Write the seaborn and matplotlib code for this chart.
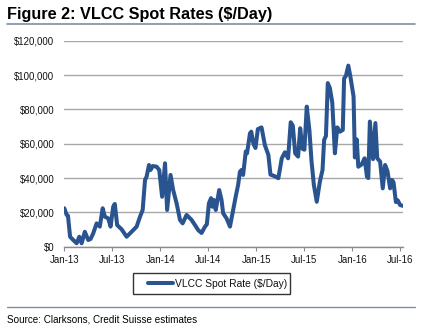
import matplotlib
matplotlib.use("Agg")
import matplotlib.pyplot as plt
import matplotlib.dates as mdates
from matplotlib.lines import Line2D
from matplotlib.patches import Rectangle
import seaborn as sns
import pandas as pd

dates = [
    "2013-01-01", "2013-01-10", "2013-01-15", "2013-01-23", "2013-02-04", "2013-02-17",
    "2013-02-27", "2013-03-08", "2013-03-20", "2013-04-02", "2013-04-11", "2013-04-21",
    "2013-05-04", "2013-05-16", "2013-05-27", "2013-06-04", "2013-06-17", "2013-06-26",
    "2013-07-06", "2013-07-12", "2013-07-21", "2013-08-07", "2013-08-26", "2013-09-14",
    "2013-10-03", "2013-10-16", "2013-10-26", "2013-11-04", "2013-11-10", "2013-11-19",
    "2013-11-25", "2013-12-03", "2013-12-18", "2013-12-28", "2014-01-08", "2014-01-19",
    "2014-01-27", "2014-02-09", "2014-02-19", "2014-03-04", "2014-03-17", "2014-03-27",
    "2014-04-11", "2014-04-30", "2014-05-13", "2014-05-25", "2014-06-07", "2014-06-20",
    "2014-06-27", "2014-07-05", "2014-07-13", "2014-07-18", "2014-07-24", "2014-07-31",
    "2014-08-13", "2014-08-22", "2014-08-28", "2014-09-10", "2014-09-23", "2014-10-05",
    "2014-10-16", "2014-10-24", "2014-10-31", "2014-11-06", "2014-11-12", "2014-11-22",
    "2014-11-27", "2014-12-08", "2014-12-13", "2014-12-21", "2014-12-29", "2015-01-07",
    "2015-01-21", "2015-02-03", "2015-02-16", "2015-02-24", "2015-03-13", "2015-03-26",
    "2015-04-08", "2015-04-20", "2015-05-02", "2015-05-12", "2015-05-20", "2015-05-29",
    "2015-06-09", "2015-06-17", "2015-06-26", "2015-07-03", "2015-07-12", "2015-07-22",
    "2015-07-30", "2015-08-08", "2015-08-19", "2015-08-31", "2015-09-10", "2015-09-16",
    "2015-09-23", "2015-09-30", "2015-10-08", "2015-10-17", "2015-10-27", "2015-11-05",
    "2015-11-15", "2015-11-26", "2015-12-01", "2015-12-08", "2015-12-17", "2015-12-25",
    "2016-01-06", "2016-01-11", "2016-01-18", "2016-01-24", "2016-02-06", "2016-02-17",
    "2016-02-26", "2016-03-02", "2016-03-08", "2016-03-20", "2016-03-29", "2016-04-05",
    "2016-04-16", "2016-04-26", "2016-05-05", "2016-05-14", "2016-05-24", "2016-05-31",
    "2016-06-06", "2016-06-15", "2016-06-22", "2016-07-01", "2016-07-11",
]

rates = [
    22400, 18500, 18000, 5800, 3900, 2000,
    5800, 2000, 8700, 3900, 4500, 7800,
    13600, 11700, 22400, 17500, 16500, 11700,
    23300, 24900, 12600, 10100, 5800, 8700,
    11700, 17500, 21400, 38900, 40800, 47600,
    44700, 47000, 46600, 44700, 29100, 48600,
    21400, 41800, 33000, 25300, 15600, 13600,
    18500, 15600, 12600, 9700, 8000, 11700,
    13000, 25300, 28300, 23300, 27200, 21400,
    33000, 27200, 19500, 16500, 11700, 21400,
    30100, 36000, 43700, 44700, 41800, 55400,
    54400, 66000, 67000, 60000, 57500, 68500,
    69500, 59000, 53500, 42000, 41000, 39900,
    51500, 55000, 51500, 72500, 70500, 54400,
    52500, 69000, 57000, 56500, 81600, 68000,
    50000, 36000, 26200, 38000, 44700, 62200,
    64500, 95300, 92400, 84000, 54400, 69500,
    67000, 68000, 98000, 99500, 105500, 99000,
    87500, 52000, 62500, 46600, 48000, 51500,
    40800, 40000, 72900, 51000, 72000, 51500,
    49600, 34000, 47600, 44000, 34000, 38900,
    37500, 26000, 27000, 24300, 23800,
]

series_name = "VLCC Spot Rate ($/Day)"
title = "Figure 2: VLCC Spot Rates ($/Day)"
source = "Source: Clarksons, Credit Suisse estimates"
y_ticks = [0, 20000, 40000, 60000, 80000, 100000, 120000]
x_ticks = ["2013-01-01", "2013-07-01", "2014-01-01", "2014-07-01",
           "2015-01-01", "2015-07-01", "2016-01-01", "2016-07-01"]

df = pd.DataFrame({"date": pd.to_datetime(dates), "rate": rates})

sns.set_theme(style="white")
plt.rcParams["font.family"] = ["Liberation Sans", "DejaVu Sans"]

LINE = "#2A5490"
GRID = "#A8A8A8"
RULE = "#7D8DA3"
W, H = 422, 328

def fx(px):
    return px / W

def fy(py):
    return 1 - py / H

fig = plt.figure(figsize=(W / 100, H / 100), dpi=100)
ax = fig.add_axes([fx(64.3), fy(246.7), (403 - 64.3) / W, (246.7 - 40.7) / H])

sns.lineplot(data=df, x="date", y="rate", ax=ax, color=LINE, linewidth=2.9,
             legend=False, solid_joinstyle="round")

ax.set_ylim(0, 120000)
ax.set_yticks(y_ticks)
ax.set_yticklabels([f"${v:,.0f}" for v in y_ticks])
ax.set_xlim(pd.Timestamp("2013-01-01"), pd.Timestamp("2016-07-12"))
ax.set_xticks(pd.to_datetime(x_ticks))
ax.xaxis.set_major_formatter(mdates.DateFormatter("%b-%y"))

ax.set_xlabel("")
ax.set_ylabel("")
ax.grid(axis="y", color=GRID, linewidth=1.0)
ax.grid(axis="x", visible=False)
ax.set_axisbelow(True)
for s in ["top", "right", "left"]:
    ax.spines[s].set_visible(False)
ax.spines["bottom"].set_color("#8C8C8C")
ax.spines["bottom"].set_linewidth(1.0)
ax.tick_params(axis="x", which="major", direction="out", length=3, width=0.8,
               color="#8C8C8C", labelsize=6.9, pad=3, bottom=True)
ax.tick_params(axis="y", length=0, labelsize=6.9, pad=7.2)
for lbl in ax.get_xticklabels() + ax.get_yticklabels():
    lbl.set_color("#111111")

# Title and rules
fig.text(fx(7.3), fy(15), title, fontsize=11.7, fontweight="bold",
         ha="left", va="center", color="black")
fig.add_artist(Line2D([fx(7), fx(415)], [fy(24), fy(24)],
                      color=RULE, linewidth=1.2, transform=fig.transFigure))
fig.add_artist(Line2D([fx(7), fx(415)], [fy(306.7), fy(306.7)],
                      color=RULE, linewidth=1.0, transform=fig.transFigure))
fig.text(fx(7.3), fy(319.5), source, fontsize=7.1, ha="left", va="center",
         color="black")

# Legend (frame drawn as a separate box)
fig.add_artist(Rectangle((fx(133), fy(294)), (290 - 133) / W, (294 - 273.3) / H,
                         transform=fig.transFigure, fill=False,
                         edgecolor="#333333", linewidth=1.0))
handle = Line2D([0], [0], color=LINE, linewidth=2.9)
leg = fig.legend([handle], [series_name], loc="center left",
                 bbox_to_anchor=(fx(148), fy(283.7)),
                 frameon=False, fontsize=7.4, handlelength=2.43,
                 handletextpad=0.2, borderpad=0, borderaxespad=0)
for t in leg.get_texts():
    t.set_color("#111111")

fig.savefig("out.png", dpi=100)
